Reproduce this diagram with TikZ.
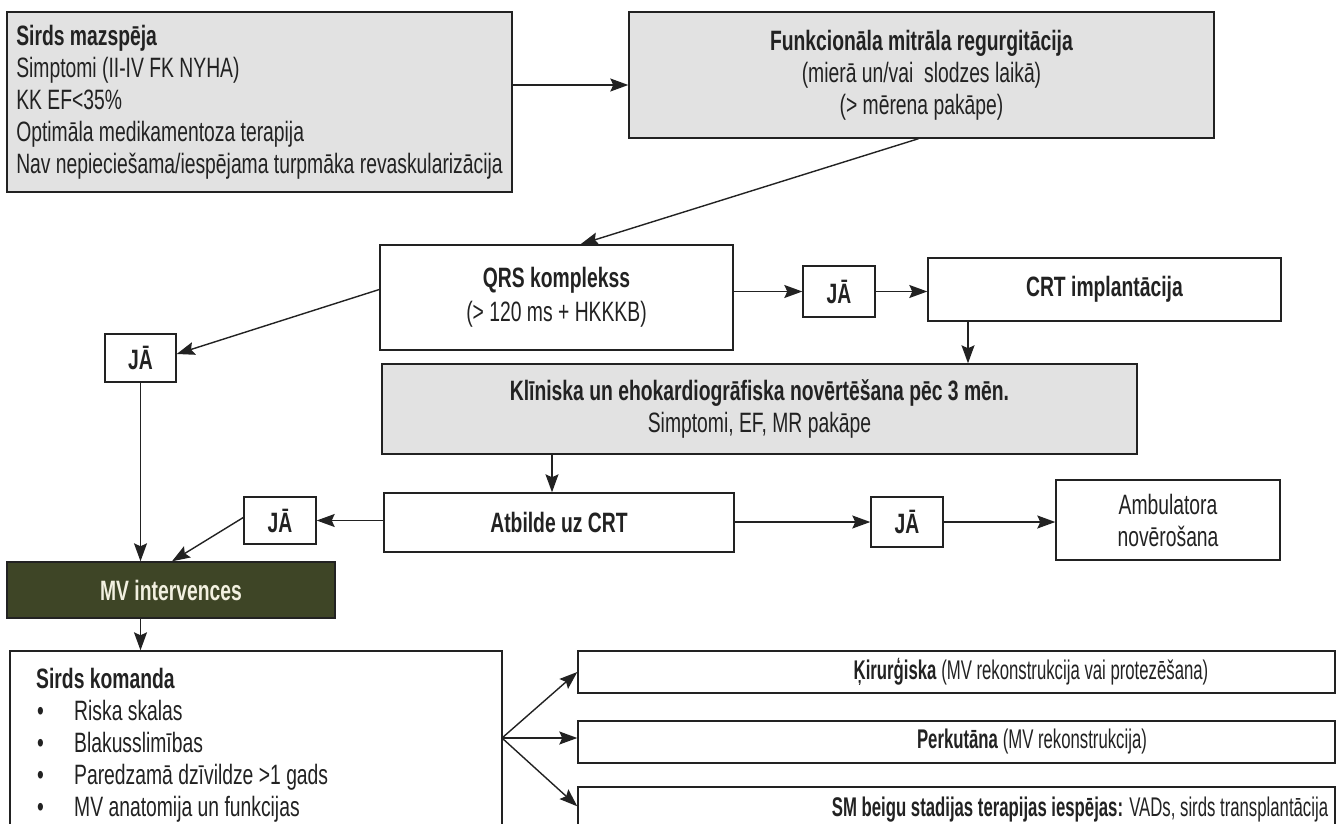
\documentclass[tikz,border=0pt]{standalone}
\usepackage{fontspec}
\setmainfont{Liberation Sans}[FakeStretch=0.69]
\newfontfamily\narrowfont{Liberation Sans}[FakeStretch=0.62]
\usetikzlibrary{arrows.meta,calc}
\definecolor{boxgray}{HTML}{E2E2E2}
\definecolor{mvgreen}{HTML}{3E4526}
\definecolor{mvtext}{HTML}{F2F0E0}
\definecolor{ink}{HTML}{222222}
\tikzset{
  box/.style={draw=ink, line width=1.4pt, inner sep=0pt, align=center, text=ink},
  gbox/.style={box, fill=boxgray},
  arr/.style={draw=ink, line width=1.4pt, -{Stealth[length=18pt,width=13pt,inset=3pt]}},
  txt/.style={inner sep=0pt, text=ink, align=left},
  narrow/.style={font=\narrowfont\fontsize{27}{30}\selectfont},
}
\begin{document}
\begin{tikzpicture}[x=1pt,y=-1pt,font=\fontsize{28}{32}\selectfont]
\useasboundingbox (0,0) rectangle (1338,824);
\clip (0,0) rectangle (1338,824);
\fill[white] (0,0) rectangle (1338,824);

% boxes
\node[gbox, minimum width=505, minimum height=180, align=left] (hf) at (259.5,102)
  {\textbf{Sirds mazspēja}\\Simptomi (II-IV FK NYHA)\\KK EF<35\%\\Optimāla medikamentoza terapija\\Nav nepieciešama/iespējama turpmāka revaskularizācija};
\node[gbox, minimum width=585, minimum height=126] (fmr) at (921.5,75)
  {\textbf{Funkcionāla mitrāla regurgitācija}\\(mierā un/vai\ \ slodzes laikā)\\(> mērena pakāpe)};
\node[box, minimum width=353, minimum height=105] (qrs) at (556.5,297.5)
  {\textbf{QRS komplekss}\\[2pt](> 120 ms + HKKKB)};
\node[box, minimum width=72, minimum height=51] (jaa) at (839,291.5) {\textbf{JĀ}};
\node[box, minimum width=353, minimum height=63] (crt) at (1104.5,289.5) {\textbf{CRT implantācija}};
\node[box, minimum width=71, minimum height=48] (jab) at (140.5,358) {\textbf{JĀ}};
\node[gbox, minimum width=755, minimum height=90] (kli) at (759.5,409)
  {\textbf{Klīniska un ehokardiogrāfiska novērtēšana pēc 3 mēn.}\\Simptomi, EF, MR pakāpe};
\node[box, minimum width=350, minimum height=59] (atb) at (559,522.5) {\textbf{Atbilde uz CRT}};
\node[box, minimum width=72, minimum height=47] (jac) at (280,520.5) {\textbf{JĀ}};
\node[box, minimum width=72, minimum height=50] (jad) at (907,522) {\textbf{JĀ}};
\node[box, minimum width=224, minimum height=80] (amb) at (1168,520) {Ambulatora\\novērošana};
\node[box, fill=mvgreen, text=mvtext, minimum width=328, minimum height=56] (mv) at (171,590) {\textbf{MV intervences}};
\node[box, minimum width=492, minimum height=219] (sk) at (256,760.5) {};
\node[txt, anchor=north west] (skt) at (36,668)
  {\textbf{Sirds komanda}\\
   \makebox[38pt][l]{\hspace{1pt}•}Riska skalas\\
   \makebox[38pt][l]{\hspace{1pt}•}Blakusslimības\\
   \makebox[38pt][l]{\hspace{1pt}•}Paredzamā dzīvildze >1 gads\\
   \makebox[38pt][l]{\hspace{1pt}•}MV anatomija un funkcijas};
\node[box, minimum width=757, minimum height=42] (kir) at (956.5,672) {};
\node[txt, narrow] (kirt) at (1031,672) {\textbf{Ķirurģiska} (MV rekonstrukcija vai protezēšana)};
\node[box, minimum width=757, minimum height=42] (per) at (956.5,742) {};
\node[txt, narrow] (pert) at (1032,742) {\textbf{Perkutāna} (MV rekonstrukcija)};
\node[box, minimum width=757, minimum height=63] (sm) at (956.5,818.5) {};
\node[txt, narrow] (smt) at (1080,810) {\textbf{SM beigu stadijas terapijas iespējas:} VADs, sirds transplantācija};

% helper coordinates
\coordinate (c1) at (968,0);
\coordinate (c2) at (552,0);
\coordinate (c3) at (172,0);
\coordinate (fork) at (502,738);

% connectors
\draw[arr] ($(hf.east)+(0,-17)$) -- (fmr.west |- {$(hf.east)+(0,-17)$});
\draw[arr] ($(fmr.south)+(-3,0)$) -- ($(qrs.north)+(24,0)$);
\draw[arr] (qrs.east |- jaa.west) -- (jaa.west);
\draw[arr] (jaa.east) -- (crt.west |- jaa.east);
\draw[arr] (crt.south -| c1) -- (kli.north -| c1);
\draw[arr] ($(qrs.west)+(0,-8)$) -- ($(jab.east)+(0,-4)$);
\draw[arr] (jab.south) -- (mv.north -| jab.south);
\draw[arr] (kli.south -| c2) -- (atb.north -| c2);
\draw[arr] (atb.west |- jac.east) -- (jac.east);
\draw[arr] ($(jac.west)+(0,-3)$) -- (mv.north -| c3);
\draw[arr] (atb.east |- jad.west) -- (jad.west);
\draw[arr] (jad.east) -- (amb.west |- jad.east);
\draw[arr] (mv.south -| jab.south) -- (sk.north -| jab.south);
\draw[arr] (fork) -- (kir.west);
\draw[arr] (fork) -- (per.west |- fork);
\draw[arr] (fork) -- ($(sm.north west)+(0,20)$);
\end{tikzpicture}
\end{document}
